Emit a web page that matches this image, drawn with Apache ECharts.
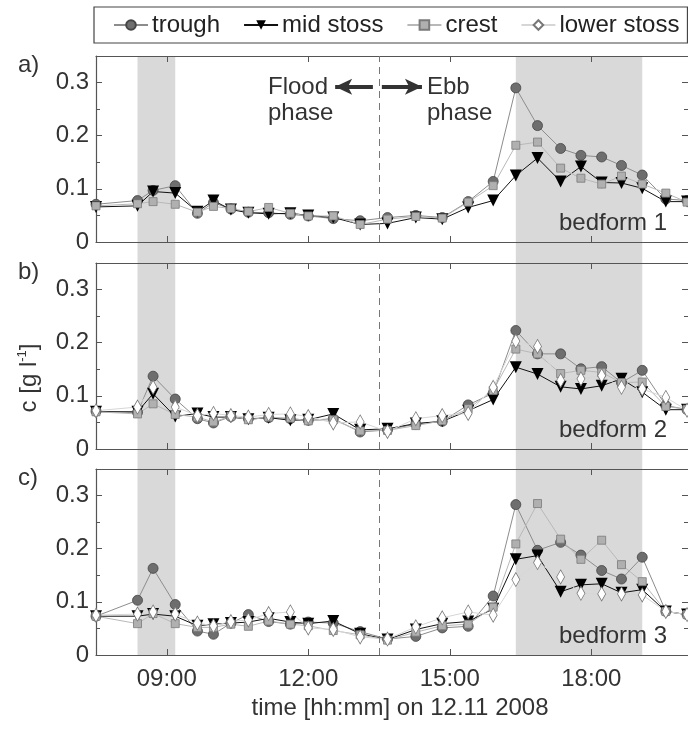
<!DOCTYPE html>
<html>
<head>
<meta charset="utf-8">
<script src="https://cdn.jsdelivr.net/npm/echarts@6/dist/echarts.min.js"></script>
<style>
html, body { margin: 0; padding: 0; background: #fff; }
#chart { width: 688px; height: 729px; }
</style>
</head>
<body>
<div id="chart"></div>
<script>
// sampling times in decimal hours, 12.11.2008
var times = [7.5, 8.38, 8.71, 9.18, 9.65, 9.99, 10.36, 10.73, 11.16, 11.62, 12.0, 12.53, 13.1, 13.68,
	14.28, 14.84, 15.39, 15.92, 16.4, 16.86, 17.35, 17.78, 18.22, 18.64, 19.08, 19.58, 20.03];

// bedform 1
var trough1 = [0.071, 0.078, 0.097, 0.106, 0.054, 0.074, 0.062, 0.056, 0.055, 0.052, 0.049, 0.044, 0.040, 0.046,
	0.050, 0.046, 0.076, 0.114, 0.290, 0.219, 0.176, 0.163, 0.160, 0.144, 0.126, 0.081, 0.078];
var midStoss1 = [0.066, 0.068, 0.095, 0.092, 0.057, 0.078, 0.061, 0.055, 0.053, 0.054, 0.050, 0.046, 0.033, 0.035,
	0.046, 0.043, 0.065, 0.078, 0.125, 0.158, 0.114, 0.142, 0.112, 0.111, 0.101, 0.076, 0.076];
var crest1 = [0.068, 0.072, 0.076, 0.071, 0.056, 0.067, 0.063, 0.057, 0.065, 0.054, 0.049, 0.049, 0.033, 0.043,
	0.048, 0.045, 0.075, 0.106, 0.182, 0.188, 0.139, 0.120, 0.109, 0.124, 0.109, 0.092, 0.075];

// bedform 2
var trough2 = [0.071, 0.069, 0.137, 0.094, 0.057, 0.049, 0.061, 0.057, 0.059, 0.057, 0.054, 0.057, 0.032, 0.036,
	0.047, 0.052, 0.083, 0.105, 0.223, 0.179, 0.179, 0.151, 0.155, 0.125, 0.148, 0.082, 0.074];
var midStoss2 = [0.070, 0.070, 0.104, 0.061, 0.067, 0.060, 0.060, 0.056, 0.059, 0.054, 0.055, 0.066, 0.036, 0.038,
	0.048, 0.052, 0.072, 0.093, 0.154, 0.141, 0.117, 0.113, 0.119, 0.132, 0.107, 0.074, 0.074];
var crest2 = [0.070, 0.066, 0.085, 0.065, 0.060, 0.051, 0.062, 0.055, 0.060, 0.058, 0.053, 0.055, 0.034, 0.035,
	0.044, 0.053, 0.076, 0.110, 0.188, 0.179, 0.142, 0.148, 0.144, 0.125, 0.126, 0.080, 0.075];
var lowerStoss2 = [0.072, 0.079, 0.116, 0.079, 0.063, 0.067, 0.063, 0.060, 0.065, 0.066, 0.061, 0.049, 0.051, 0.033,
	0.057, 0.063, 0.067, 0.116, 0.203, 0.193, 0.129, 0.132, 0.138, 0.116, 0.113, 0.097, 0.073];

// bedform 3
var trough3 = [0.073, 0.103, 0.163, 0.095, 0.045, 0.039, 0.060, 0.076, 0.063, 0.058, 0.062, 0.060, 0.044, 0.030,
	0.035, 0.051, 0.054, 0.111, 0.283, 0.197, 0.212, 0.188, 0.159, 0.143, 0.184, 0.082, 0.076];
var midStoss3 = [0.073, 0.073, 0.077, 0.073, 0.055, 0.058, 0.060, 0.062, 0.069, 0.062, 0.059, 0.064, 0.040, 0.029,
	0.048, 0.059, 0.063, 0.087, 0.180, 0.187, 0.119, 0.132, 0.134, 0.117, 0.123, 0.082, 0.076];
var crest3 = [0.073, 0.059, 0.078, 0.059, 0.052, 0.052, 0.058, 0.054, 0.064, 0.058, 0.055, 0.046, 0.038, 0.028,
	0.043, 0.055, 0.058, 0.090, 0.209, 0.285, 0.218, 0.180, 0.216, 0.170, 0.138, 0.082, 0.076];
var lowerStoss3 = [0.075, 0.077, 0.081, 0.077, 0.060, 0.055, 0.063, 0.066, 0.078, 0.081, 0.051, 0.048, 0.034, 0.030,
	0.053, 0.070, 0.081, 0.075, 0.142, 0.174, 0.147, 0.116, 0.115, 0.115, 0.113, 0.082, 0.076];

// shaded periods and flood/ebb turn (hours)
var bands = [[8.38, 9.18], [16.4, 19.08]];
var tideTurn = 13.5;
var tickHours = [9, 12, 15, 18];
var panelNames = ['bedform 1', 'bedform 2', 'bedform 3'];
var panelLetters = ['a)', 'b)', 'c)'];

var font = 'Liberation Sans, Arial, sans-serif';
var axisColor = '#555';
var gridTops = [56, 263, 469];
var gridH = 186;
var xMin = 7.5, xMax = 20.05;

var styles = {
	'trough': { symbol: 'circle', symbolSize: 10, symbolRotate: 0,
		itemStyle: { color: '#6e6e6e', borderColor: '#454545', borderWidth: 0.8 },
		lineStyle: { color: '#8c8c8c', width: 1 } },
	'mid stoss': { symbol: 'triangle', symbolSize: 12, symbolRotate: 180,
		itemStyle: { color: '#000' },
		lineStyle: { color: '#111', width: 1 } },
	'crest': { symbol: 'rect', symbolSize: 8, symbolRotate: 0,
		itemStyle: { color: '#b0b0b0', borderColor: '#7a7a7a', borderWidth: 0.8 },
		lineStyle: { color: '#b8b8b8', width: 1 } },
	'lower stoss': { symbol: 'diamond', symbolSize: [8, 14], symbolRotate: 0,
		itemStyle: { color: '#fff', borderColor: '#777', borderWidth: 0.8 },
		lineStyle: { color: '#d6d6d6', width: 1 } }
};

function pairs(vals) {
	return times.map(function (t, i) { return [t, vals[i]]; });
}

function hourLabel(v) {
	return (v < 10 ? '0' : '') + v + ':00';
}

var grids = [], xAxes = [], yAxes = [], series = [];

for (var p = 0; p < 3; p++) {
	grids.push({ left: 96, top: gridTops[p], width: 592, height: gridH });
	var xBase = {
		type: 'value', gridIndex: p, min: xMin, max: xMax,
		axisLine: { show: true, onZero: false, lineStyle: { color: axisColor, width: 1.2 } },
		axisTick: { show: true, inside: true, length: 6, customValues: tickHours, lineStyle: { color: axisColor } },
		splitLine: { show: false }
	};
	xAxes.push(Object.assign({}, xBase, {
		position: 'bottom',
		axisLabel: { show: p === 2, customValues: tickHours, formatter: hourLabel,
			fontSize: 24, fontFamily: font, color: '#333', margin: 12 }
	}));
	xAxes.push(Object.assign({}, xBase, { position: 'top', axisLabel: { show: false } }));

	var yBase = {
		type: 'value', gridIndex: p, min: 0, max: 0.35, interval: 0.1,
		axisTick: { show: true, inside: true, length: 6, lineStyle: { color: axisColor } },
		minorTick: { show: true, splitNumber: 2, length: 4, lineStyle: { color: axisColor } },
		splitLine: { show: false }, minorSplitLine: { show: false }
	};
	yAxes.push(Object.assign({}, yBase, {
		position: 'left',
		axisLine: { show: true, lineStyle: { color: axisColor, width: 1.2 } },
		axisLabel: { fontSize: 24, fontFamily: font, color: '#333', margin: 7, showMaxLabel: false,
			formatter: function (v) { return v === 0 ? '0' : v.toFixed(1); } }
	}));
	yAxes.push(Object.assign({}, yBase, {
		position: 'right', axisLine: { show: false }, axisLabel: { show: false }
	}));
}

// hidden grid spanning all panels, carries the shaded periods
grids.push({ left: 96, top: gridTops[0], width: 592, height: gridTops[2] + gridH - gridTops[0] });
xAxes.push({ type: 'value', gridIndex: 3, min: xMin, max: xMax, show: false });
yAxes.push({ type: 'value', gridIndex: 3, min: 0, max: 1, show: false });
series.push({
	type: 'line', xAxisIndex: 6, yAxisIndex: 6, data: [], z: -1, silent: true,
	markArea: {
		silent: true, z: -1,
		itemStyle: { color: '#d9d9d9' },
		data: bands.map(function (b) { return [{ xAxis: b[0] }, { xAxis: b[1] }]; })
	}
});

var panelData = [
	{ 'trough': trough1, 'mid stoss': midStoss1, 'crest': crest1 },
	{ 'trough': trough2, 'mid stoss': midStoss2, 'crest': crest2, 'lower stoss': lowerStoss2 },
	{ 'trough': trough3, 'mid stoss': midStoss3, 'crest': crest3, 'lower stoss': lowerStoss3 }
];

var turnLine = {
	lineStyle: { color: '#777', width: 1, type: [7, 5] },
	xAxis: tideTurn
};
var arrowStyle = { color: '#333', width: 4, type: 'solid' };

panelData.forEach(function (d, p) {
	Object.keys(d).forEach(function (name) {
		var st = styles[name];
		var s = {
			name: name, type: 'line',
			xAxisIndex: 2 * p, yAxisIndex: 2 * p,
			data: pairs(d[name]),
			symbol: st.symbol, symbolSize: st.symbolSize, symbolRotate: st.symbolRotate,
			itemStyle: st.itemStyle, lineStyle: st.lineStyle,
			showAllSymbol: true
		};
		if (name === 'trough') {
			var ml = [turnLine];
			if (p === 0) {
				ml.push([{ coord: [13.37, 0.292], symbol: 'none', lineStyle: arrowStyle },
					{ coord: [12.57, 0.292], symbol: 'arrow', symbolSize: [12, 17] }]);
				ml.push([{ coord: [13.56, 0.292], symbol: 'none', lineStyle: arrowStyle },
					{ coord: [14.41, 0.292], symbol: 'arrow', symbolSize: [12, 17] }]);
			}
			s.markLine = { silent: true, symbol: 'none', label: { show: false }, data: ml };
		}
		series.push(s);
	});
});

var textStyle = { fontSize: 24, fontFamily: font, fill: '#333' };
var graphics = [];
for (var k = 0; k < 3; k++) {
	graphics.push({ type: 'text', left: 18, top: gridTops[k] - 3,
		style: Object.assign({ text: panelLetters[k] }, textStyle) });
	graphics.push({ type: 'text', x: 667, y: gridTops[k] + 155,
		style: Object.assign({ text: panelNames[k], align: 'right', verticalAlign: 'top' }, textStyle) });
}
graphics.push({ type: 'text', left: 268, top: 74,
	style: Object.assign({ text: 'Flood\nphase', lineHeight: 26 }, textStyle) });
graphics.push({ type: 'text', left: 427, top: 74,
	style: Object.assign({ text: 'Ebb\nphase', lineHeight: 26 }, textStyle) });
graphics.push({ type: 'text', x: 400, y: 696,
	style: Object.assign({ text: 'time [hh:mm] on 12.11 2008', align: 'center', verticalAlign: 'top' }, textStyle) });
graphics.push({ type: 'text', x: 29, y: 378, rotation: Math.PI / 2,
	style: {
		text: '{a|c [g l}{s|-1}{a|]}', align: 'center', verticalAlign: 'middle',
		rich: {
			a: { fontSize: 24, fontFamily: font, fill: '#333', lineHeight: 26 },
			s: { fontSize: 13, fontFamily: font, fill: '#333', lineHeight: 26, verticalAlign: 'top', padding: [0, 0, 12, 0] }
		}
	} });

var myChart = echarts.init(document.getElementById('chart'));

var option = {
	animation: false,
	backgroundColor: '#fff',
	legend: {
		data: ['trough', 'mid stoss', 'crest', 'lower stoss'],
		left: 94, top: 7, width: 590,
		padding: [6, 8, 6, 19],
		itemGap: 23, itemWidth: 34, itemHeight: 12,
		borderColor: '#444', borderWidth: 1.2,
		textStyle: { fontSize: 24, fontFamily: font, color: '#222', padding: [0, 0, 0, -1] }
	},
	grid: grids,
	xAxis: xAxes,
	yAxis: yAxes,
	series: series,
	graphic: graphics
};

myChart.setOption(option);
</script>
</body>
</html>
